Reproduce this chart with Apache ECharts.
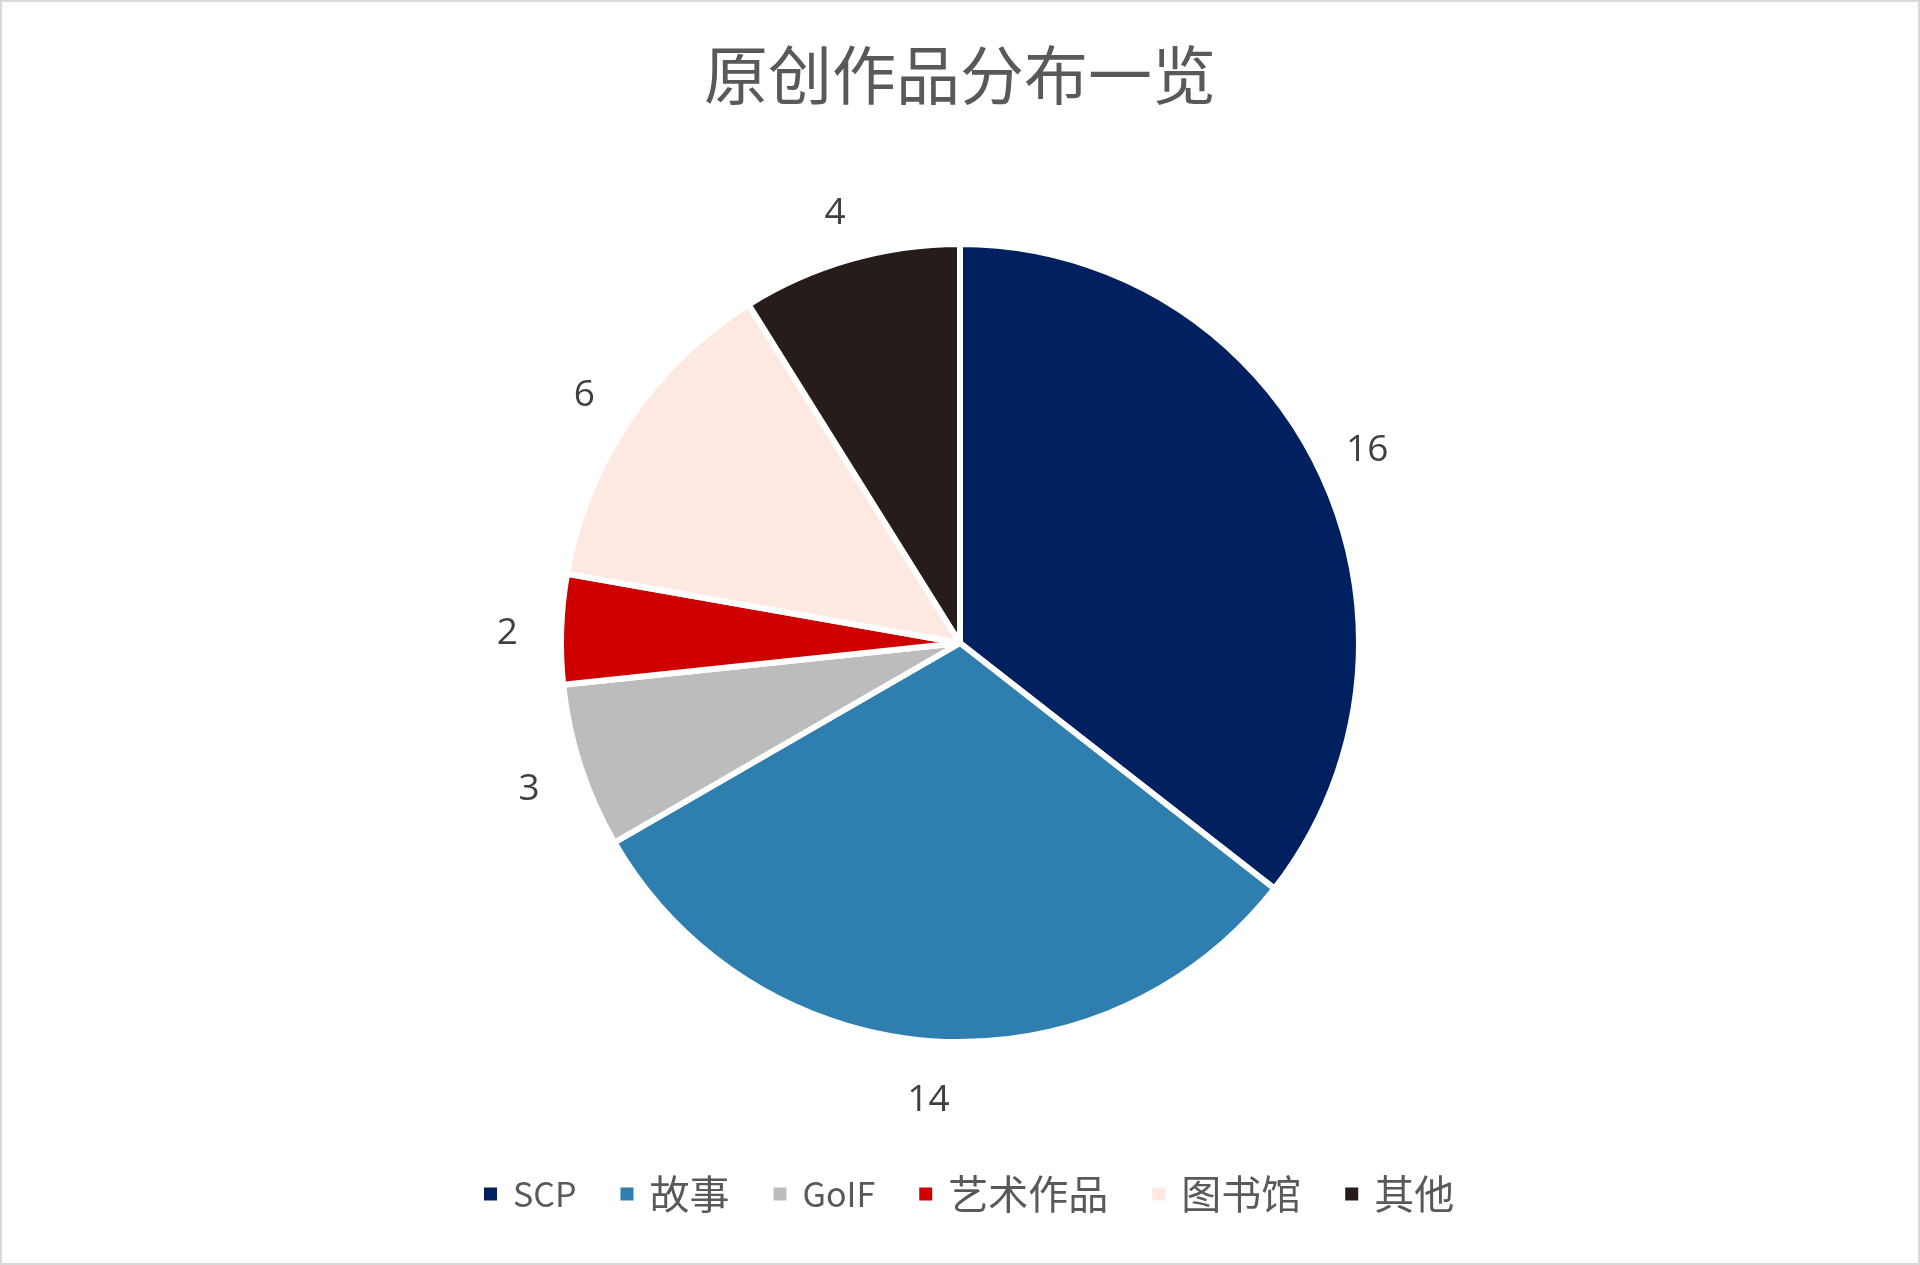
<!DOCTYPE html>
<html><head><meta charset="utf-8">
<script src="https://cdn.jsdelivr.net/npm/echarts@6/dist/echarts.min.js"></script>
<style>
html,body{margin:0;padding:0;background:#fff;}
#c{width:1920px;height:1265px;box-sizing:border-box;border:2px solid #d9d9d9;}
</style></head>
<body><div id="c"></div>
<script>
const titleText = '原创作品分布一览';
const categories = ['SCP', '故事', 'GoIF', '艺术作品', '图书馆', '其他'];
const values = [16, 14, 3, 2, 6, 4];
const colors = ['#002060', '#2E7FB0', '#BBBCBB', '#CE0000', '#FDE9E2', '#261C1A'];

const data = categories.map((n, i) => ({ name: n, value: values[i], itemStyle: { color: colors[i] } }));
const chart = echarts.init(document.getElementById('c'));
chart.setOption({
  animation: false,
  color: colors,
  title: {
    text: titleText, left: 'center', top: 36,
    textStyle: { fontFamily: 'Noto Sans CJK SC', fontSize: 64, fontWeight: 'normal', color: '#595959' }
  },
  legend: {
    data: categories, bottom: 44, left: 475,
    itemWidth: 15, itemHeight: 15, itemGap: 42, icon: 'rect',
    formatter: n => /^[A-Za-z]+$/.test(n) ? '{l|' + n + '}' : '{c|' + n + '}',
    textStyle: {
      fontFamily: 'Noto Sans CJK SC', fontSize: 38, color: '#595959', padding: [0, 0, 0, 10],
      rich: {
        l: { fontFamily: 'Noto Sans CJK SC', fontSize: 34, color: '#595959' },
        c: { fontFamily: 'Noto Sans CJK SC', fontSize: 40, color: '#595959' }
      }
    }
  },
  series: [
    {
      type: 'pie', center: [958, 641], radius: [0, 399], startAngle: 90, clockwise: true,
      data: data,
      itemStyle: { borderColor: '#fff', borderWidth: 6 },
      label: { show: false }, labelLine: { show: false }
    },
    {
      type: 'pie', center: [958, 647], radius: [410, 490], startAngle: 90, clockwise: true, silent: true,
      data: categories.map((n, i) => ({ name: n, value: values[i] })),
      itemStyle: { color: 'rgba(0,0,0,0)' },
      label: { show: true, position: 'inside', formatter: '{c}', fontFamily: 'Open Sans', fontSize: 37, color: '#404040' },
      labelLine: { show: false }
    }
  ]
});
</script></body></html>
